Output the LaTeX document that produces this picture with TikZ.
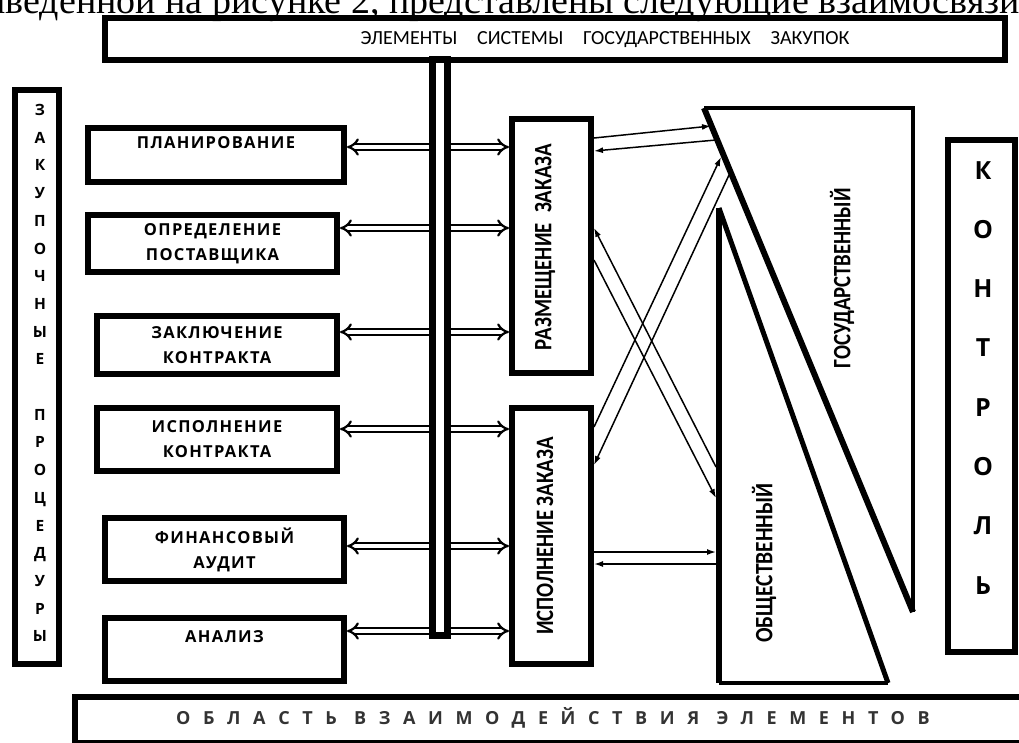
\documentclass[tikz,border=0pt]{standalone}
\usepackage{fontspec}
\setmainfont{Liberation Serif}
\newfontfamily\plainsans{Open Sans}
\newfontfamily\boxfont[LetterSpace=8]{Open Sans}
\newfontfamily\widefont[LetterSpace=70]{Open Sans}
\newfontfamily\narrowfont{Carlito}
\usetikzlibrary{arrows.meta}

\tikzset{
  frame/.style={draw, line width=6pt, inner sep=0pt},
  procbox/.style={frame, align=center, font=\boxfont\bfseries\fontsize{16.5}{25}\selectfont},
  vletter/.style={inner sep=0pt, text height=11pt, text depth=0pt, font=\plainsans\bfseries\fontsize{15.5}{15.5}\selectfont},
  bigletter/.style={inner sep=0pt, text height=18pt, text depth=0pt, font=\plainsans\bfseries\fontsize{25}{25}\selectfont},
  vlabel/.style={rotate=90, inner sep=0pt, font=\narrowfont\bfseries\fontsize{25}{25}\selectfont},
  dbl/.style={double, double distance=3.5pt, line width=2.2pt, -{Implies[scale=1.8]}},
  link/.style={line width=1.5pt, -{Latex[length=9pt,width=6pt]}},
}

\begin{document}
\begin{tikzpicture}[x=1pt,y=-1pt]
  \useasboundingbox (0,0) rectangle (1019,742);
  % строка текста над схемой
  \node[anchor=base west, inner sep=0pt, font=\fontsize{38}{38}\selectfont] (prev) at (-54,13)
    {приведенной на рисунке 2, представлены следующие взаимосвязи};

  % верхний блок и шина
  \node[frame, minimum width=900pt, minimum height=42pt] (sys) at (555,39) {};
  \node[inner sep=0pt, font=\narrowfont\fontsize{20}{20}\selectfont] (sysT) at (605,40)
    {ЭЛЕМЕНТЫ\quad СИСТЕМЫ\quad ГОСУДАРСТВЕННЫХ\quad ЗАКУПОК};
  \node[frame, line width=7pt, minimum width=15pt, minimum height=576pt] (bus) at (439.5,347) {};

  % закупочные процедуры
  \node[frame, minimum width=44pt, minimum height=574pt] (procs) at (37,377) {};
  \foreach \ch [count=\i from 0] in {З,А,К,У,П,О,Ч,Н,Ы,Е}
    \node[vletter] (z\i) at (40,110+27.7*\i) {\ch};
  \foreach \ch [count=\i from 11] in {П,Р,О,Ц,Е,Д,У,Р,Ы}
    \node[vletter] (z\i) at (40,110+27.7*\i) {\ch};

  \node[procbox, minimum width=256pt, minimum height=54pt] (plan) at (216,155) {ПЛАНИРОВАНИЕ\\\phantom{А}};
  \node[procbox, minimum width=249pt, minimum height=57pt] (supp) at (212.5,243.5) {ОПРЕДЕЛЕНИЕ\\ПОСТАВЩИКА};
  \node[procbox, minimum width=240pt, minimum height=58pt] (concl) at (217,345) {ЗАКЛЮЧЕНИЕ\\КОНТРАКТА};
  \node[procbox, minimum width=240pt, minimum height=63pt] (exec) at (217,439.5) {ИСПОЛНЕНИЕ\\КОНТРАКТА};
  \node[procbox, minimum width=239pt, minimum height=63pt] (audit) at (224.5,549.5) {ФИНАНСОВЫЙ\\АУДИТ};
  \node[procbox, minimum width=239pt, minimum height=63pt] (anal) at (224.5,649.5) {АНАЛИЗ\\\phantom{А}};

  % заказ
  \node[frame, minimum width=79pt, minimum height=254pt] (place) at (551.5,246) {};
  \node[vlabel] (placeT) at (545,247) {\scalebox{0.83}[1]{РАЗМЕЩЕНИЕ\enspace ЗАКАЗА}};
  \node[frame, minimum width=79pt, minimum height=256pt] (perform) at (551.5,536) {};
  \node[vlabel] (performT) at (545,536) {\scalebox{0.83}[1]{ИСПОЛНЕНИЕ ЗАКАЗА}};

  \foreach \y/\l/\r in {147/plan/place, 228/supp/place, 332/concl/place,
                        429/exec/perform, 546/audit/perform, 631/anal/perform} {
    \draw[dbl] (bus.west |- 0,\y) -- (\l.east |- 0,\y);
    \draw[dbl] (bus.east |- 0,\y) -- (\r.west |- 0,\y);
  }

  % контроль: государственный и общественный
  \coordinate (gA) at (704,108);
  \coordinate (gB) at (913,108);
  \coordinate (gC) at (913,612);
  \draw[line width=3.5pt] (gA) -- (gB) -- (gC);
  \draw[line width=6pt] (gA) -- (gC);
  \node[vlabel] (gosT) at (842,278) {\scalebox{0.83}[1]{ГОСУДАРСТВЕННЫЙ}};

  \coordinate (oA) at (719,208);
  \coordinate (oB) at (719,683);
  \coordinate (oC) at (888,683);
  \draw[line width=6pt] (oA) -- (oB);
  \draw[line width=3.5pt] (oB) -- (oC);
  \draw[line width=5pt] (oC) -- (oA);
  \node[vlabel] (obT) at (764,563) {\scalebox{0.86}[1]{ОБЩЕСТВЕННЫЙ}};

  \coordinate (g1) at (711,126);
  \coordinate (g2) at (716,140);
  \coordinate (g3) at (721,157);
  \coordinate (g4) at (729,175);
  \coordinate (o1) at (716,467);
  \coordinate (o2) at (716,498);
  \coordinate (o3) at (716,552);
  \coordinate (o4) at (716,564);
  \draw[link] (place.east |- 0,138) -- (g1);
  \draw[link] (g2) -- (place.east |- 0,151);
  \draw[link] (o1) -- (place.east |- 0,228);
  \draw[link] (place.east |- 0,260) -- (o2);
  \draw[link] (perform.east |- 0,427) -- (g3);
  \draw[link] (g4) -- (perform.east |- 0,465);
  \draw[link] (perform.east |- 0,552) -- (o3);
  \draw[link] (o4) -- (perform.east |- 0,564);

  \node[frame, minimum width=67pt, minimum height=512pt] (ctrl) at (981.5,396) {};
  \foreach \ch [count=\i from 0] in {К,О,Н,Т,Р,О,Л,Ь}
    \node[bigletter] (k\i) at (983,170+59.3*\i) {\ch};

  % область взаимодействия
  \node[frame, minimum width=962pt, minimum height=46pt] (area) at (556,720) {};
  \node[inner sep=0pt, text=black!80, font=\widefont\bfseries\fontsize{18}{18}\selectfont] (areaT) at (553,718)
    {ОБЛАСТЬ ВЗАИМОДЕЙСТВИЯ ЭЛЕМЕНТОВ};
\end{tikzpicture}
\end{document}
